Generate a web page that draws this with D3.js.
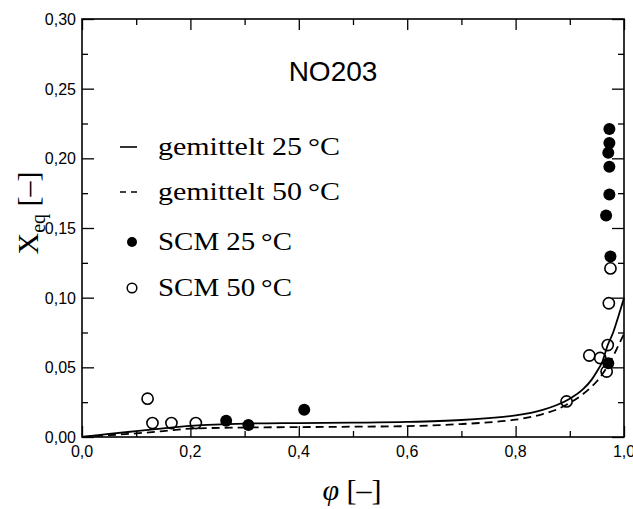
<!DOCTYPE html>
<html>
<head>
<meta charset="utf-8">
<script src="https://cdn.jsdelivr.net/npm/d3@7"></script>
<style>
  body { margin: 0; background: #fff; }
  .tick-label { font-family: "Liberation Sans", Arial, sans-serif; font-size: 16px; fill: #000; }
  .legend-text { font-family: "Liberation Serif", "DejaVu Serif", serif; font-size: 25px; fill: #000; }
  .axis-title { font-family: "Liberation Serif", "DejaVu Serif", serif; fill: #000; }
</style>
</head>
<body>
<svg id="chart"></svg>
<script>
// model curves
const curvePhi = [0, 0.05, 0.1, 0.15, 0.2, 0.3, 0.4, 0.5, 0.6, 0.7, 0.75, 0.8, 0.85, 0.875, 0.9, 0.925, 0.94, 0.95, 0.96, 0.97, 0.98, 0.99, 1.0];
const curve25 = [0, 0.0022, 0.0042, 0.0062, 0.0080, 0.0096, 0.0100, 0.0103, 0.0108, 0.0122, 0.0136, 0.0155, 0.0195, 0.0228, 0.0275, 0.0345, 0.041, 0.047, 0.054, 0.066, 0.075, 0.087, 0.0997];
const curve50 = [0, 0.0013, 0.0026, 0.0042, 0.0060, 0.0068, 0.0071, 0.0074, 0.0078, 0.0093, 0.0105, 0.0124, 0.0165, 0.0196, 0.0245, 0.031, 0.036, 0.040, 0.045, 0.051, 0.058, 0.066, 0.074];

// SCM measurements
const scm25Phi = [0.266, 0.307, 0.410, 0.973, 0.973, 0.971, 0.973, 0.973, 0.967, 0.975, 0.971];
const scm25X   = [0.0117, 0.0086, 0.0196, 0.221, 0.211, 0.204, 0.194, 0.174, 0.159, 0.1296, 0.053];
const scm50Phi = [0.121, 0.130, 0.165, 0.210, 0.975, 0.972, 0.970, 0.936, 0.956, 0.968, 0.894];
const scm50X   = [0.0275, 0.010, 0.010, 0.010, 0.121, 0.096, 0.066, 0.0585, 0.0567, 0.047, 0.0255];

const xTicks = [0, 0.2, 0.4, 0.6, 0.8, 1.0];
const yTicks = [0, 0.05, 0.10, 0.15, 0.20, 0.25, 0.30];

const legendLabels = ["gemittelt 25\u2009\u00b0C", "gemittelt 50\u2009\u00b0C", "SCM 25\u2009\u00b0C", "SCM 50\u2009\u00b0C"];

const W = 633, H = 509;
const margin = { top: 19, right: 9, bottom: 72, left: 82 };
const width = W - margin.left - margin.right;
const height = H - margin.top - margin.bottom;

const svg = d3.select("#chart").attr("width", W).attr("height", H);
const chart = svg.append("g").attr("transform", `translate(${margin.left},${margin.top})`);

const xScale = d3.scaleLinear().domain([0, 1]).range([0, width]);
const yScale = d3.scaleLinear().domain([0, 0.30]).range([height, 0]);

const fmtX = d => d3.format(".1f")(d).replace(".", ",");
const fmtY = d => d3.format(".2f")(d).replace(".", ",");

// ticks inside on all four sides
const xMinor = d3.range(0.1, 1, 0.2);
const yMinor = d3.range(0.025, 0.3, 0.05);
function tickSet(axisFn, scale, major, minor, len, lenMinor) {
  return [
    axisFn(scale).tickValues(major).tickSize(len).tickFormat(""),
    axisFn(scale).tickValues(minor).tickSize(lenMinor).tickFormat("")
  ];
}
const tickGroups = [
  { t: `translate(0,${height})`, axes: tickSet(d3.axisTop, xScale, xTicks, xMinor, 11, 6) },
  { t: `translate(0,0)`, axes: tickSet(d3.axisBottom, xScale, xTicks, xMinor, 11, 6) },
  { t: `translate(0,0)`, axes: tickSet(d3.axisRight, yScale, yTicks, yMinor, 12, 6) },
  { t: `translate(${width},0)`, axes: tickSet(d3.axisLeft, yScale, yTicks, yMinor, 12, 6) }
];
tickGroups.forEach(g => {
  g.axes.forEach(a => {
    const ag = chart.append("g").attr("transform", g.t).call(a);
    ag.select(".domain").remove();
    ag.selectAll("line").attr("stroke", "#000").attr("stroke-width", 1.3);
  });
});

chart.append("rect")
  .attr("width", width).attr("height", height)
  .attr("fill", "none").attr("stroke", "#000").attr("stroke-width", 1.6);

// tick labels
chart.selectAll(".xlab").data(xTicks).join("text")
  .attr("class", "tick-label xlab")
  .attr("x", d => xScale(d)).attr("y", height + 20)
  .attr("text-anchor", "middle")
  .text(fmtX);
chart.selectAll(".ylab").data(yTicks).join("text")
  .attr("class", "tick-label ylab")
  .attr("x", -6).attr("y", d => yScale(d) + 6)
  .attr("text-anchor", "end")
  .text(fmtY);

// curves
const line = d3.line()
  .x(d => xScale(d[0])).y(d => yScale(d[1]))
  .curve(d3.curveMonotoneX);
chart.append("path")
  .datum(curvePhi.map((p, i) => [p, curve25[i]]))
  .attr("d", line).attr("fill", "none").attr("stroke", "#000").attr("stroke-width", 1.8);
chart.append("path")
  .datum(curvePhi.map((p, i) => [p, curve50[i]]))
  .attr("d", line).attr("fill", "none").attr("stroke", "#000").attr("stroke-width", 1.8)
  .attr("stroke-dasharray", "8,5");

// points
chart.selectAll(".p50").data(scm50Phi.map((p, i) => [p, scm50X[i]])).join("circle")
  .attr("class", "p50")
  .attr("cx", d => xScale(d[0])).attr("cy", d => yScale(d[1])).attr("r", 5.6)
  .attr("fill", "none").attr("stroke", "#000").attr("stroke-width", 1.6);
chart.selectAll(".p25").data(scm25Phi.map((p, i) => [p, scm25X[i]])).join("circle")
  .attr("class", "p25")
  .attr("cx", d => xScale(d[0])).attr("cy", d => yScale(d[1])).attr("r", 6)
  .attr("fill", "#000");

// title
svg.append("text")
  .attr("x", 333).attr("y", 81).attr("text-anchor", "middle")
  .style("font-family", "Liberation Sans, Arial, sans-serif").style("font-size", "28px")
  .text("NO203");

// legend
const legendY = [147, 192, 242, 288];
const legendWidths = [182, 182, 134, 134];
const legend = svg.append("g");
legendLabels.forEach((lab, i) => {
  legend.append("text").attr("class", "legend-text")
    .attr("x", 158).attr("y", legendY[i] + 8)
    .attr("textLength", legendWidths[i]).attr("lengthAdjust", "spacingAndGlyphs")
    .text(lab);
});
legend.append("line").attr("x1", 120).attr("x2", 137).attr("y1", legendY[0]).attr("y2", legendY[0])
  .attr("stroke", "#000").attr("stroke-width", 1.6);
legend.append("line").attr("x1", 120).attr("x2", 137).attr("y1", legendY[1]).attr("y2", legendY[1])
  .attr("stroke", "#000").attr("stroke-width", 1.6).attr("stroke-dasharray", "6,5");
legend.append("circle").attr("cx", 132).attr("cy", legendY[2]).attr("r", 5).attr("fill", "#000");
legend.append("circle").attr("cx", 132).attr("cy", legendY[3]).attr("r", 4.8)
  .attr("fill", "none").attr("stroke", "#000").attr("stroke-width", 1.5);

// axis titles
const xt = svg.append("text").attr("class", "axis-title")
  .attr("x", 352).attr("y", 500).attr("text-anchor", "middle").style("font-size", "30px");
xt.append("tspan").style("font-style", "italic").text("\u03c6");
xt.append("tspan").text(" [\u2013]");

const yt = svg.append("text").attr("class", "axis-title")
  .attr("transform", "translate(38,213) rotate(-90)")
  .attr("text-anchor", "middle").style("font-size", "30px");
yt.append("tspan").text("X");
yt.append("tspan").attr("dy", 7).style("font-size", "20px").text("eq");
yt.append("tspan").attr("dy", -7).text(" [\u2013]");
</script>
</body>
</html>
